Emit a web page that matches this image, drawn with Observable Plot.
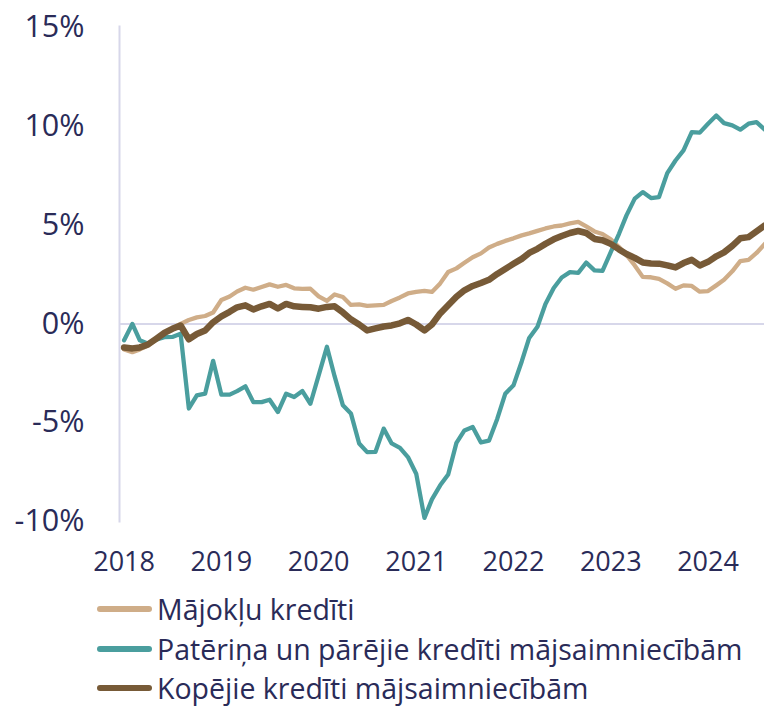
<!DOCTYPE html>
<html>
<head>
<meta charset="utf-8">
<script src="https://cdn.jsdelivr.net/npm/d3@7"></script>
<script src="https://cdn.jsdelivr.net/npm/@observablehq/plot@0.6"></script>
<style>
  html, body { margin: 0; padding: 0; background: #fff; overflow: hidden; }
  body { font-family: "Open Sans", "Noto Sans", sans-serif; color: #2a2b58; }
  #chart svg { display: block; }
  .legend { padding-top: 6px; }
  .legend .row { display: flex; align-items: center; height: 30px; margin-bottom: 9.5px; font-size: 28.5px; line-height: 30px; white-space: nowrap; }
  .legend .sw { width: 55px; height: 6px; border-radius: 3px; margin-left: 97px; margin-right: 5px; flex: none; }
</style>
</head>
<body>
<div id="chart"></div>
<div class="legend" id="legend"></div>
<script>
// Monthly observations, Jan 2018 – Aug 2024 (annual change, %)
const startMonth = "2018-01-01";
const endMonth = "2024-08-01";

const seriesNames = [
  "Mājokļu kredīti",
  "Patēriņa un pārējie kredīti mājsaimniecībām",
  "Kopējie kredīti mājsaimniecībām"
];
const seriesColors = ["#cfad88", "#4a9e9e", "#775a37"];

const housing = [
  -1.29, -1.43, -1.29, -1.09, -0.78, -0.48, -0.23, 0.0, 0.2, 0.33, 0.4, 0.58,
  1.21, 1.39, 1.64, 1.83, 1.73, 1.87, 2.0, 1.88, 1.97, 1.8, 1.77, 1.78,
  1.39, 1.16, 1.49, 1.36, 0.96, 0.99, 0.91, 0.94, 0.96, 1.16, 1.34, 1.54,
  1.62, 1.67, 1.62, 2.05, 2.63, 2.81, 3.09, 3.37, 3.57, 3.87, 4.05, 4.2,
  4.33, 4.48, 4.58, 4.71, 4.83, 4.93, 4.98, 5.09, 5.16, 4.93, 4.68, 4.55,
  4.28, 3.89, 3.49, 2.96, 2.38, 2.36, 2.28, 2.05, 1.78, 1.95, 1.92, 1.63,
  1.66, 1.95, 2.23, 2.66, 3.18, 3.24, 3.59, 4.05
];

const consumer = [
  -0.83, 0.0, -0.83, -1.0, -0.8, -0.67, -0.66, -0.5, -4.28, -3.62, -3.53, -1.87,
  -3.58, -3.58, -3.4, -3.16, -3.96, -3.96, -3.84, -4.46, -3.53, -3.7, -3.4, -4.04,
  -2.6, -1.16, -2.66, -4.12, -4.53, -6.05, -6.49, -6.48, -5.3, -6.05, -6.27, -6.74,
  -7.58, -9.82, -8.88, -8.17, -7.62, -6.02, -5.39, -5.22, -6.0, -5.91, -4.81, -3.54,
  -3.11, -1.9, -0.71, -0.14, 1.01, 1.82, 2.35, 2.62, 2.58, 3.1, 2.71, 2.68,
  3.63, 4.56, 5.49, 6.34, 6.67, 6.37, 6.42, 7.63, 8.27, 8.78, 9.71, 9.68,
  10.13, 10.55, 10.16, 10.05, 9.83, 10.13, 10.21, 9.83
];

const total = [
  -1.19, -1.24, -1.19, -1.04, -0.76, -0.46, -0.25, -0.08, -0.78, -0.51, -0.33, 0.08,
  0.38, 0.61, 0.84, 0.94, 0.73, 0.89, 1.01, 0.78, 1.01, 0.89, 0.86, 0.84,
  0.77, 0.86, 0.89, 0.58, 0.23, -0.03, -0.33, -0.23, -0.13, -0.08, 0.03, 0.2,
  -0.03, -0.33, -0.03, 0.53, 0.94, 1.37, 1.7, 1.92, 2.07, 2.23, 2.53, 2.78,
  3.04, 3.29, 3.59, 3.8, 4.05, 4.28, 4.45, 4.6, 4.7, 4.6, 4.3, 4.23,
  4.05, 3.77, 3.54, 3.34, 3.11, 3.06, 3.05, 2.96, 2.86, 3.08, 3.24, 2.96,
  3.14, 3.42, 3.62, 3.95, 4.33, 4.39, 4.68, 4.98
];

const yTicks = [-10, -5, 0, 5, 10, 15];

const months = d3.utcMonth.range(new Date(startMonth), d3.utcMonth.offset(new Date(endMonth), 1));
const valuesList = [housing, consumer, total];
const rows = [];
valuesList.forEach((vals, s) => {
  vals.forEach((v, i) => rows.push({date: months[i], value: v, series: seriesNames[s]}));
});

const textColor = "#2a2b58";
const gridColor = "#d7d7ea";
const widths = [4.3, 4.3, 6.5];

const marks = [
  Plot.ruleY([0], {stroke: gridColor, strokeWidth: 2}),
  Plot.frame({anchor: "left", stroke: gridColor, strokeWidth: 2}),
  Plot.axisY({ticks: yTicks, tickFormat: d => d + "%", tickSize: 0, tickPadding: 35, fontSize: 30.5, fill: textColor}),
  Plot.axisX({ticks: d3.utcYear.every(1), tickFormat: d3.utcFormat("%Y"), tickSize: 0, tickPadding: 30, fontSize: 27, fill: textColor})
];
[0, 1, 2].forEach(s => {
  marks.push(Plot.line(rows.filter(r => r.series === seriesNames[s]), {
    x: "date", y: "value", stroke: seriesColors[s], strokeWidth: widths[s],
    strokeLinecap: "round", strokeLinejoin: "round"
  }));
});

const chart = Plot.plot({
  width: 764,
  height: 588,
  marginLeft: 119,
  marginRight: 0,
  marginTop: 26,
  marginBottom: 67,
  style: {fontFamily: "'Open Sans', 'Noto Sans', sans-serif", color: textColor, background: "#fff", overflow: "hidden"},
  x: {type: "utc", domain: [new Date(startMonth), new Date(endMonth)], range: [123.6, 764.3], label: null},
  y: {domain: [-10, 15], range: [521, 27], label: null},
  marks
});
document.getElementById("chart").appendChild(chart);

const legend = document.getElementById("legend");
seriesNames.forEach((name, s) => {
  const row = document.createElement("div");
  row.className = "row";
  const sw = document.createElement("span");
  sw.className = "sw";
  sw.style.background = seriesColors[s];
  const t = document.createElement("span");
  t.textContent = name;
  row.appendChild(sw);
  row.appendChild(t);
  legend.appendChild(row);
});
</script>
</body>
</html>
